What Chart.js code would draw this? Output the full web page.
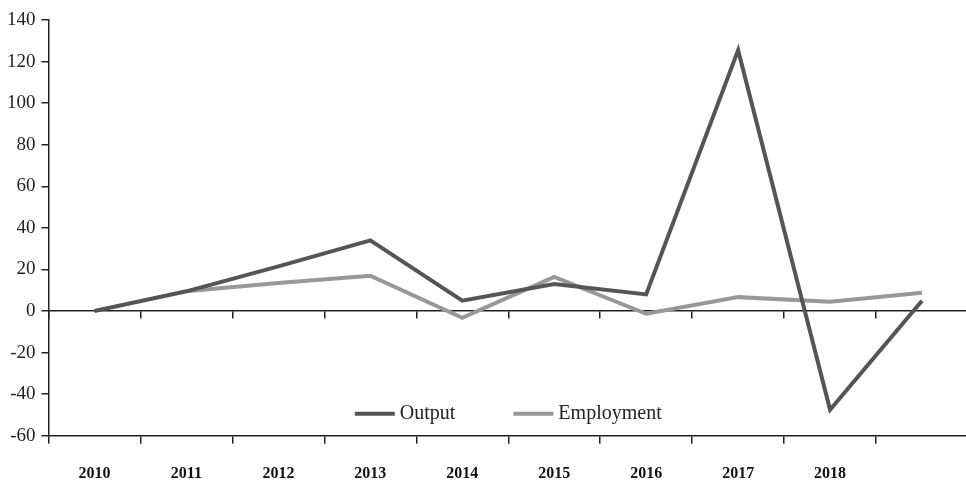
<!DOCTYPE html>
<html>
<head>
<meta charset="utf-8">
<script src="https://cdn.jsdelivr.net/npm/chart.js@4"></script>
<style>
html, body { margin: 0; padding: 0; background: #fff; overflow: hidden; }
#wrap { width: 968px; height: 481px; }
</style>
</head>
<body>
<div id="wrap"><canvas id="chart"></canvas></div>
<script>
const years = ['2010', '2011', '2012', '2013', '2014', '2015', '2016', '2017', '2018', ''];
const output = [0, 9.5, 21.5, 34, 5, 13, 8, 125.5, -47.5, 5];
const employment = [null, 9.5, 13.5, 17, -3.2, 16.4, -1.3, 6.7, 4.5, 8.8];
const yMin = -60, yMax = 140, yStep = 20;

const axisColor = '#222';
const serif = '"Liberation Serif", "DejaVu Serif", serif';

// legend drawn inside the plot, near the bottom
const insideLegend = {
    id: 'insideLegend',
    afterDraw(chart) {
        const { ctx, chartArea } = chart;
        const lineLen = 40, gap = 5, itemGap = 58;
        ctx.save();
        ctx.font = '20px ' + serif;
        const items = chart.data.datasets.map(ds => ({ ds, w: ctx.measureText(ds.label).width }));
        const total = items.reduce((s, it) => s + lineLen + gap + it.w, 0) + itemGap * (items.length - 1);
        let x = (chartArea.left + chartArea.right) / 2 - total / 2;
        const y = chartArea.bottom - 22;
        items.forEach(it => {
            ctx.strokeStyle = it.ds.borderColor;
            ctx.lineWidth = 4;
            ctx.beginPath();
            ctx.moveTo(x, y);
            ctx.lineTo(x + lineLen, y);
            ctx.stroke();
            x += lineLen + gap;
            ctx.fillStyle = '#222';
            ctx.textBaseline = 'middle';
            ctx.fillText(it.ds.label, x, y);
            x += it.w + itemGap;
        });
        ctx.restore();
    }
};

const config = {
    type: 'line',
    data: {
        labels: years,
        datasets: [
            {
                label: 'Output',
                data: output,
                borderColor: 'rgb(85, 85, 85)',
                borderWidth: 4,
                pointRadius: 0,
                tension: 0,
                fill: false,
            },
            {
                label: 'Employment',
                data: employment,
                borderColor: 'rgb(152, 152, 152)',
                borderWidth: 4,
                pointRadius: 0,
                tension: 0,
                fill: false,
            },
        ],
    },
    options: {
        responsive: true,
        maintainAspectRatio: false,
        animation: false,
        layout: { padding: { top: 20, left: 1, right: 0, bottom: -22 } },
        scales: {
            x: {
                offset: true,
                grid: { offset: true, drawOnChartArea: false, tickLength: 8, color: axisColor, lineWidth: 1.5 },
                border: { color: axisColor, width: 1.5 },
                ticks: {
                    color: '#111',
                    font: { family: serif, size: 16, weight: 'bold' },
                    padding: 20,
                    maxRotation: 0,
                    autoSkip: false,
                },
            },
            x0: {
                type: 'category',
                position: { y: 0 },
                offset: true,
                grid: { offset: true, drawOnChartArea: false, tickLength: 7, color: axisColor, lineWidth: 1.5 },
                border: { color: axisColor, width: 1.5 },
                ticks: { display: false },
            },
            y: {
                min: yMin,
                max: yMax,
                grid: { drawOnChartArea: false, tickLength: 7, color: axisColor, lineWidth: 1.5 },
                border: { color: axisColor, width: 1.5 },
                ticks: {
                    stepSize: yStep,
                    color: '#222',
                    padding: 6,
                    font: { family: serif, size: 19 },
                },
            },
        },
        plugins: {
            legend: { display: false },
            tooltip: { enabled: false },
        },
    },
    plugins: [insideLegend],
};

new Chart(document.getElementById('chart'), config);
</script>
</body>
</html>
